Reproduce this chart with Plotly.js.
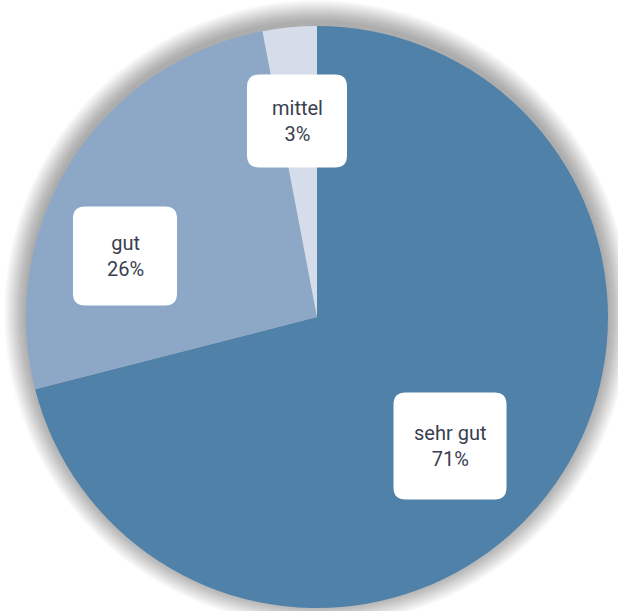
<!DOCTYPE html>
<html>
<head>
<meta charset="utf-8">
<script src="https://cdn.plot.ly/plotly-3.0.1.min.js"></script>
<style>html,body{margin:0;padding:0;background:#fff;}#chart{width:618px;height:611px;}</style>
</head>
<body>
<div id="chart"></div>
<script>
// ---- data ----
const categories = ["sehr gut", "gut", "mittel"];
const shares = [71, 26, 3];
const sliceColors = ["#5081a9", "#8ca8c6", "#d4dde9"];

// ---- layout constants (pixels) ----
const W = 618, H = 611;
const CX = 317, CY = 317, R = 291;
// label box centres and sizes (pixel layout)
const boxes = [
  {cx: 450, cy: 446, w: 113, h: 107},
  {cx: 125, cy: 256, w: 104, h: 99},
  {cx: 297, cy: 121, w: 100, h: 93}
];

const px = x => x / W;
const py = y => 1 - y / H;

const total = shares.reduce((a, b) => a + b, 0);

const shapes = [];
// soft shadow behind pie (slightly offset upward)
for (let k = 1; k <= 22; k++) {
  const r = R + k * 1.0;
  shapes.push({
    type: "circle", layer: "below",
    xref: "paper", yref: "paper",
    xsizemode: "pixel", ysizemode: "pixel",
    xanchor: px(CX), yanchor: py(CY - 4),
    x0: -r, x1: r, y0: -r, y1: r,
    fillcolor: "rgba(0,0,0,0.016)", line: {width: 0}
  });
}
// rounded label boxes
const rr = 12;
boxes.forEach(b => {
  const x0 = b.cx - b.w / 2, x1 = b.cx + b.w / 2;
  const y0 = b.cy - b.h / 2, y1 = b.cy + b.h / 2;
  const P = (x, y) => px(x) + "," + py(y);
  const path = "M" + P(x0 + rr, y0) + " L" + P(x1 - rr, y0) +
    " Q" + P(x1, y0) + " " + P(x1, y0 + rr) +
    " L" + P(x1, y1 - rr) + " Q" + P(x1, y1) + " " + P(x1 - rr, y1) +
    " L" + P(x0 + rr, y1) + " Q" + P(x0, y1) + " " + P(x0, y1 - rr) +
    " L" + P(x0, y0 + rr) + " Q" + P(x0, y0) + " " + P(x0 + rr, y0) + " Z";
  shapes.push({
    type: "path", layer: "above", xref: "paper", yref: "paper",
    path: path, fillcolor: "#ffffff", line: {width: 0}
  });
});

const annotations = categories.map((c, i) => ({
  xref: "paper", yref: "paper",
  x: px(boxes[i].cx), y: py(boxes[i].cy),
  xanchor: "center", yanchor: "middle",
  showarrow: false,
  text: c + "<br>" + Math.round(shares[i] / total * 100) + "%",
  font: {family: "Roboto, sans-serif", size: 20, color: "#394050"}
}));

const trace = {
  type: "pie",
  labels: categories,
  values: shares,
  sort: false,
  direction: "clockwise",
  rotation: 0,
  marker: {colors: sliceColors, line: {width: 0}},
  textinfo: "none",
  hoverinfo: "none",
  showlegend: false,
  domain: {x: [px(CX - R), px(CX + R)], y: [py(CY + R), py(CY - R)]}
};

Plotly.newPlot("chart", [trace], {
  width: W, height: H,
  margin: {l: 0, r: 0, t: 0, b: 0},
  paper_bgcolor: "#ffffff",
  showlegend: false,
  shapes: shapes,
  annotations: annotations
}, {displayModeBar: false, staticPlot: true});
</script>
</body>
</html>
